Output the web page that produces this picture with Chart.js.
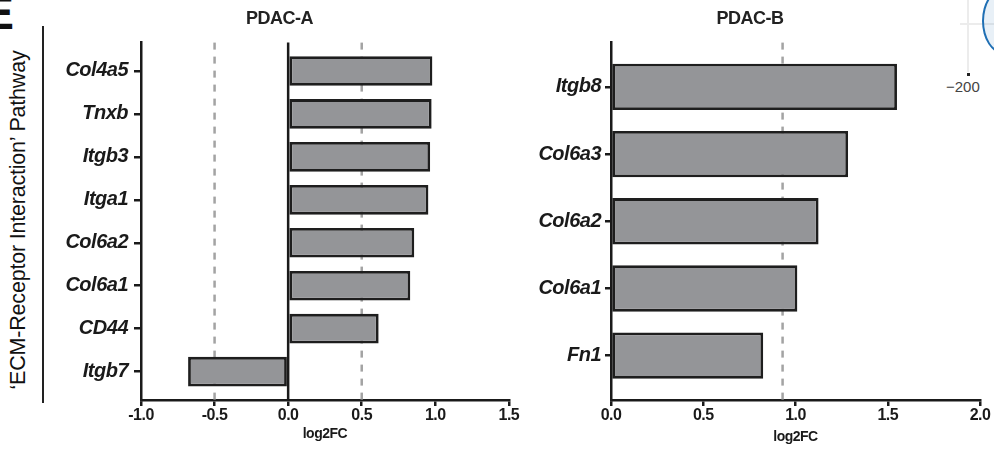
<!DOCTYPE html>
<html>
<head>
<meta charset="utf-8">
<script src="https://cdn.jsdelivr.net/npm/chart.js@4.4.1/dist/chart.umd.min.js"></script>
<style>
  html, body { margin: 0; padding: 0; background: #fff; }
  body { width: 994px; height: 450px; overflow: hidden; position: relative; font-family: "Liberation Sans", Arial, sans-serif; }
  #wrap { position: absolute; left: 0; top: 0; width: 994px; height: 450px; overflow: hidden; }
  .box { position: absolute; top: 0; height: 450px; }
  #boxA { left: 50px; width: 470px; }
  #boxB { left: 520px; width: 510px; }
  #panelLetter { position: absolute; left: -18px; top: -11px; font: bold 48px/1 "Liberation Sans", Arial, sans-serif; color: #111; }
  #pathwayTitle { position: absolute; left: -182px; top: 208px; width: 400px; height: 24px; line-height: 24px;
    text-align: center; font-size: 21.5px; color: #111; transform: rotate(-90deg); white-space: nowrap; letter-spacing: -0.2px; }
  #bracket { position: absolute; left: 42px; top: 26px; height: 377px; border-left: 2.3px solid #222; }
  /* fragment of the neighbouring panel at the top right */
  #fragV { position: absolute; left: 967px; top: 0; width: 2px; height: 72px; background: #ececec; }
  #fragH { position: absolute; left: 960px; top: 23px; width: 40px; height: 2px; background: #ececec; }
  #fragCurve { position: absolute; left: 982px; top: -12px; width: 40px; height: 62px; border: 2.5px solid #1f6fb4;
    border-radius: 50%; background: rgba(31,111,180,0.1); }
  #fragDot { position: absolute; left: 967px; top: 73px; width: 3px; height: 3px; background: #222; }
  #fragLabel { position: absolute; left: 946px; top: 78px; font-size: 15px; color: #444; }
</style>
</head>
<body>
<div id="wrap">
<div id="panelLetter">E</div>
<div id="pathwayTitle">‘ECM-Receptor Interaction’ Pathway</div>
<div id="bracket"></div>
<div id="fragV"></div><div id="fragH"></div><div id="fragCurve"></div><div id="fragDot"></div>
<div id="fragLabel">−200</div>
<div class="box" id="boxA"><canvas id="chartA"></canvas></div>
<div class="box" id="boxB"><canvas id="chartB"></canvas></div>
</div>
<script>
// ---------- DATA ----------
const genesA = ["Col4a5", "Tnxb", "Itgb3", "Itga1", "Col6a2", "Col6a1", "CD44", "Itgb7"];
const log2fcA = [0.98, 0.975, 0.965, 0.953, 0.857, 0.83, 0.615, -0.68];
const ticksA = [-1.0, -0.5, 0.0, 0.5, 1.0, 1.5];
const dashedA = [-0.5, 0.5];

const genesB = ["Itgb8", "Col6a3", "Col6a2", "Col6a1", "Fn1"];
const log2fcB = [1.55, 1.285, 1.125, 1.01, 0.825];
const ticksB = [0.0, 0.5, 1.0, 1.5, 2.0];
const dashedB = [0.93];

const FONT = "'Liberation Sans', Arial, sans-serif";
const INK = "#1a1a1a";

// dashed threshold lines + zero line, drawn behind the bars
const refLinePlugin = {
  id: "refLines",
  beforeDatasetsDraw(chart, args, opts) {
    const { ctx, chartArea, scales } = chart;
    const x = scales.x;
    ctx.save();
    ctx.lineWidth = 2.5;
    ctx.strokeStyle = "#a3a3a3";
    ctx.setLineDash([7, 7]);
    (opts.dashed || []).forEach(v => {
      const px = x.getPixelForValue(v);
      ctx.beginPath();
      ctx.moveTo(px, chartArea.top);
      ctx.lineTo(px, chartArea.bottom);
      ctx.stroke();
    });
    if (x.min < 0) {
      const px0 = x.getPixelForValue(0);
      ctx.setLineDash([]);
      ctx.strokeStyle = INK;
      ctx.beginPath();
      ctx.moveTo(px0, chartArea.top);
      ctx.lineTo(px0, chartArea.bottom);
      ctx.stroke();
    }
    ctx.restore();
  }
};

const tightTextPlugin = {
  id: "tightText",
  beforeDraw(chart) { chart.ctx.letterSpacing = "-0.5px"; }
};

function makeChart(id, title, genes, values, ticks, dashed, opt) {
  const pad = 0.66;
  return new Chart(document.getElementById(id), {
    type: "bar",
    data: {
      datasets: [{
        data: values.map((v, i) => ({ x: v, y: i })),
        backgroundColor: "#949598",
        borderColor: "#1e1e1e",
        borderWidth: 2.8,
        borderSkipped: false,
        barPercentage: 0.69,
        categoryPercentage: 1.0
      }]
    },
    options: {
      indexAxis: "y",
      responsive: true,
      maintainAspectRatio: false,
      animation: false,
      layout: { padding: { left: 0, right: opt.padRight, top: 0, bottom: 0 } },
      plugins: {
        legend: { display: false },
        tooltip: { enabled: false },
        title: {
          display: true,
          text: title,
          color: "#222",
          font: { family: FONT, size: 18, weight: "bold" },
          padding: { top: 8, bottom: 13 }
        },
        refLines: { dashed: dashed }
      },
      scales: {
        x: {
          type: "linear",
          min: ticks[0],
          max: ticks[ticks.length - 1],
          afterBuildTicks: s => { s.ticks = ticks.map(v => ({ value: v })); },
          afterFit: s => { s.height = 50; },
          border: { display: true, color: INK, width: 2.5 },
          grid: { drawOnChartArea: false, drawTicks: true, tickLength: 6, color: INK, lineWidth: 2.5 },
          ticks: {
            color: INK,
            padding: 0,
            font: { family: FONT, size: 16, weight: "bold" },
            callback: v => v.toFixed(1)
          },
          title: {
            display: true,
            text: "log2FC",
            color: INK,
            font: { family: FONT, size: 14, weight: "bold" },
            padding: { top: 0, bottom: opt.titlePad }
          }
        },
        y: {
          type: "linear",
          reverse: true,
          offset: false,
          min: -pad,
          max: genes.length - 1 + pad,
          afterBuildTicks: s => { s.ticks = genes.map((g, i) => ({ value: i })); },
          afterFit: s => { s.width = 91; },
          border: { display: true, color: INK, width: 2.5 },
          grid: { offset: false, drawOnChartArea: false, drawTicks: true, tickLength: opt.tickLen, color: INK, lineWidth: 2.5 },
          ticks: {
            color: INK,
            padding: opt.tickPad,
            font: { family: FONT, size: 20, weight: "bold", style: "italic" },
            callback: v => genes[v]
          }
        }
      }
    },
    plugins: [refLinePlugin, tightTextPlugin]
  });
}

makeChart("chartA", "PDAC-A", genesA, log2fcA, ticksA, dashedA, { padRight: 11, titlePad: 7, tickLen: 7, tickPad: 6 });
makeChart("chartB", "PDAC-B", genesB, log2fcB, ticksB, dashedB, { padRight: 50, titlePad: 4, tickLen: 6, tickPad: 4 });
</script>
</body>
</html>
